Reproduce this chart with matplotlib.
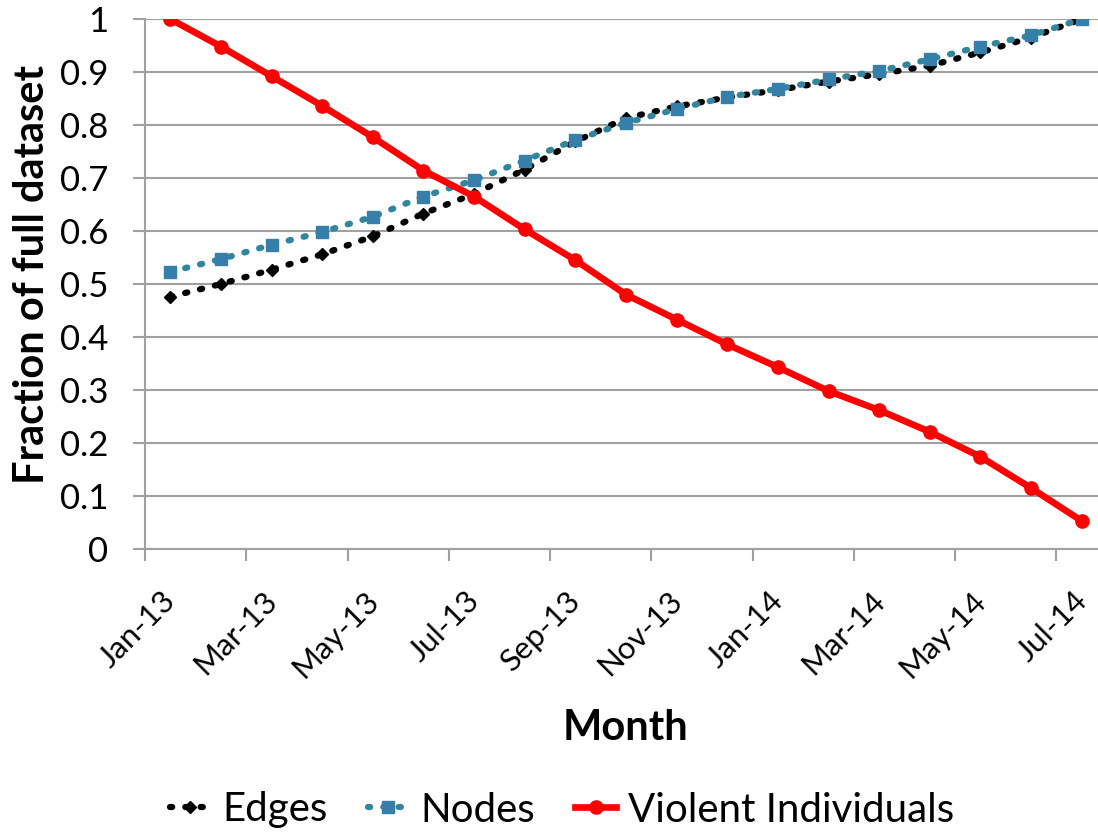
import numpy as np
import matplotlib.pyplot as plt
from matplotlib.transforms import ScaledTranslation

plt.rcParams['font.family'] = ['Lato', 'DejaVu Sans']

months = ['Jan-13', 'Feb-13', 'Mar-13', 'Apr-13', 'May-13', 'Jun-13', 'Jul-13',
          'Aug-13', 'Sep-13', 'Oct-13', 'Nov-13', 'Dec-13', 'Jan-14', 'Feb-14',
          'Mar-14', 'Apr-14', 'May-14', 'Jun-14', 'Jul-14']
edges = [0.476, 0.500, 0.527, 0.556, 0.590, 0.633, 0.670, 0.716, 0.769, 0.813,
         0.835, 0.852, 0.866, 0.882, 0.896, 0.912, 0.937, 0.965, 1.000]
nodes = [0.523, 0.547, 0.574, 0.598, 0.627, 0.665, 0.696, 0.733, 0.772, 0.804,
         0.830, 0.853, 0.868, 0.886, 0.902, 0.924, 0.948, 0.969, 1.000]
violent = [1.000, 0.948, 0.892, 0.836, 0.777, 0.714, 0.665, 0.603, 0.545, 0.480,
           0.433, 0.386, 0.343, 0.298, 0.262, 0.221, 0.174, 0.115, 0.053]
y_ticks = [0, 0.1, 0.2, 0.3, 0.4, 0.5, 0.6, 0.7, 0.8, 0.9, 1.0]
y_ticklabels = ['0', '0.1', '0.2', '0.3', '0.4', '0.5', '0.6', '0.7', '0.8', '0.9', '1']

grey = '#A0A0A0'

fig = plt.figure(figsize=(10.98, 8.32), dpi=100)
ax = fig.add_axes([145 / 1098, 1 - 549 / 832, 962 / 1098, 530 / 832])

x = np.arange(len(months))
ax.plot(x, edges, color='black', lw=4.5, dashes=(0.35, 2.1), dash_capstyle='round',
        marker='D', ms=6.5, zorder=3, label='Edges')
ax.plot(x, nodes, color='#31859C', lw=4.5, dashes=(0.35, 2.1), dash_capstyle='round',
        marker='s', ms=8.5, mfc='#357FAA', mec='#357FAA', zorder=4, label='Nodes')
ax.plot(x, violent, color='#FF0000', lw=4.8, marker='o', ms=9.5, zorder=5,
        label='Violent Individuals')

ax.set_xlim(-0.5, len(months) - 0.5)
ax.set_ylim(0, 1)
ax.set_yticks(y_ticks)
ax.set_yticklabels(y_ticklabels, fontsize=25)
ax.set_xticks(x[::2] - 0.5)
ax.set_xticklabels(months[::2], fontsize=22.5, rotation=45, ha='right', va='top')

ax.yaxis.grid(True, color=grey, lw=1.5)
ax.set_axisbelow(True)
for s in ['top', 'right']:
    ax.spines[s].set_visible(False)
for s in ['left', 'bottom']:
    ax.spines[s].set_color(grey)
    ax.spines[s].set_linewidth(1.5)
ax.tick_params(axis='both', length=8.6, width=1.5, color=grey, direction='out')
ax.tick_params(axis='y', pad=18)
ax.tick_params(axis='x', pad=18)

# excel puts the rotated labels a bit right of the tick
shift = ScaledTranslation(36 / 100, 0, fig.dpi_scale_trans)
for lab in ax.get_xticklabels():
    lab.set_transform(lab.get_transform() + shift)

ax.set_xlabel('Month', fontsize=30, fontweight='bold', va='center')
ax.xaxis.set_label_coords(0.5, (549 - 728) / 530)
ax.set_ylabel('Fraction of full dataset', fontsize=30, fontweight='bold', va='center')
ax.yaxis.set_label_coords((32 - 145) / 962, (549 - 274) / 530)

fig.legend(loc='center', bbox_to_anchor=(562 / 1098, 1 - 810 / 832), ncol=3,
           frameon=False, fontsize=29, handlelength=1.0, handletextpad=0.3,
           columnspacing=1.0)

fig.savefig('out.png', dpi=100)
